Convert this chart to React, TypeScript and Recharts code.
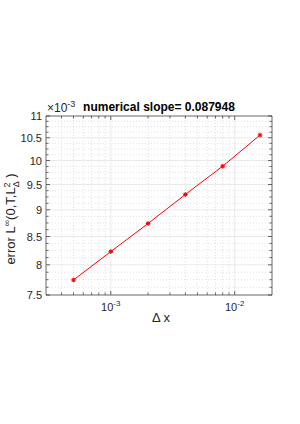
import React from 'react';
import { LineChart, Line, XAxis, YAxis, ReferenceLine, ReferenceArea } from 'recharts';

// grid refinement (Delta x) and the measured L-infinity error
const dx = [5e-4, 1e-3, 2e-3, 4e-3, 8e-3, 1.6e-2];
const errLinf = [7.745e-3, 8.23e-3, 8.74e-3, 9.3e-3, 9.88e-3, 10.56e-3];

const titleText = 'numerical slope= 0.087948';

// axis limits and ticks
const X_MIN = 3e-4;
const X_MAX = 2e-2;
const Y_MIN = 7.5e-3;
const Y_MAX = 11e-3;
const xMajor = [1e-3, 1e-2];
const xMinor = [4e-4, 5e-4, 6e-4, 7e-4, 8e-4, 9e-4, 2e-3, 3e-3, 4e-3, 5e-3, 6e-3, 7e-3, 8e-3, 9e-3];
const yMajor = [7.5e-3, 8e-3, 8.5e-3, 9e-3, 9.5e-3, 10e-3, 10.5e-3, 11e-3];
const yMinor = [
  7.625e-3, 7.75e-3, 7.875e-3, 8.125e-3, 8.25e-3, 8.375e-3, 8.625e-3, 8.75e-3, 8.875e-3,
  9.125e-3, 9.25e-3, 9.375e-3, 9.625e-3, 9.75e-3, 9.875e-3, 10.125e-3, 10.25e-3, 10.375e-3,
  10.625e-3, 10.75e-3, 10.875e-3,
];

const data = dx.map((d, i) => ({ dx: d, err: errLinf[i] }));

// plot box in pixels (matches margins below)
const PLOT_LEFT = 46;
const PLOT_RIGHT = 272;
const PLOT_TOP = 116;
const PLOT_BOTTOM = 295;

const AXIS = '#262626';
const FONT = '"Liberation Sans", Arial, sans-serif';

const XTick = (props: any) => {
  const { x, payload } = props;
  const v = payload.value;
  const major = xMajor.includes(v);
  const len = major ? 4 : 2.5;
  return (
    <g>
      <line x1={x} x2={x} y1={PLOT_BOTTOM} y2={PLOT_BOTTOM - len} stroke={AXIS} strokeWidth={0.7} />
      <line x1={x} x2={x} y1={PLOT_TOP} y2={PLOT_TOP + len} stroke={AXIS} strokeWidth={0.7} />
      {major && (
        <text x={x} y={311} textAnchor="middle" fontSize={11} fill={AXIS} fontFamily={FONT}>
          10
          <tspan dy={-5} fontSize={8}>{Math.round(Math.log10(v))}</tspan>
        </text>
      )}
    </g>
  );
};

const YTick = (props: any) => {
  const { y, payload } = props;
  const v = payload.value;
  const major = yMajor.includes(v);
  const len = major ? 4 : 2.5;
  return (
    <g>
      <line x1={PLOT_LEFT} x2={PLOT_LEFT + len} y1={y} y2={y} stroke={AXIS} strokeWidth={0.7} />
      <line x1={PLOT_RIGHT} x2={PLOT_RIGHT - len} y1={y} y2={y} stroke={AXIS} strokeWidth={0.7} />
      {major && (
        <text x={42} y={y + 4} textAnchor="end" fontSize={11} fill={AXIS} fontFamily={FONT}>
          {+(v * 1000).toFixed(1)}
        </text>
      )}
    </g>
  );
};

const Star = (props: any) => {
  const { cx, cy } = props;
  if (cx == null || cy == null) return null;
  const r = 2.3;
  return (
    <g stroke="#ff0000" strokeWidth={1.1}>
      <line x1={cx - r} x2={cx + r} y1={cy} y2={cy} />
      <line x1={cx} x2={cx} y1={cy - r} y2={cy + r} />
      <line x1={cx - r * 0.7} x2={cx + r * 0.7} y1={cy - r * 0.7} y2={cy + r * 0.7} />
      <line x1={cx - r * 0.7} x2={cx + r * 0.7} y1={cy + r * 0.7} y2={cy - r * 0.7} />
    </g>
  );
};

const App = () => {
  return (
    <div style={{ position: 'absolute', left: 0, top: 0, width: 300, height: 424, background: '#fff' }}>
      <LineChart width={300} height={424} data={data} margin={{ top: 116, right: 28, bottom: 0, left: 0 }}>
        {xMinor.map((v) => (
          <ReferenceLine key={'xm' + v} x={v} stroke="#d9d9d9" strokeDasharray="1 2" strokeWidth={0.8} />
        ))}
        {yMinor.map((v) => (
          <ReferenceLine key={'ym' + v} y={v} stroke="#d9d9d9" strokeDasharray="1 2" strokeWidth={0.8} />
        ))}
        {xMajor.map((v) => (
          <ReferenceLine key={'xM' + v} x={v} stroke="#e3e3e3" strokeWidth={0.8} />
        ))}
        {yMajor.slice(1, -1).map((v) => (
          <ReferenceLine key={'yM' + v} y={v} stroke="#e3e3e3" strokeWidth={0.8} />
        ))}
        <XAxis
          dataKey="dx"
          type="number"
          scale="log"
          domain={[X_MIN, X_MAX]}
          allowDataOverflow
          ticks={[...xMinor, ...xMajor]}
          interval={0}
          tickSize={0}
          axisLine={false}
          tick={<XTick />}
          height={129}
        />
        <YAxis
          type="number"
          scale="log"
          domain={[Y_MIN, Y_MAX]}
          allowDataOverflow
          ticks={[...yMinor, ...yMajor]}
          interval={0}
          tickSize={0}
          axisLine={false}
          tick={<YTick />}
          width={46}
        />
        <ReferenceArea
          x1={X_MIN}
          x2={X_MAX}
          y1={Y_MIN}
          y2={Y_MAX}
          fill="none"
          stroke={AXIS}
          strokeWidth={0.7}
          strokeOpacity={1}
        />
        <Line
          dataKey="err"
          type="linear"
          stroke="#ff0000"
          strokeWidth={1}
          dot={<Star />}
          activeDot={false}
          isAnimationActive={false}
        />
        <text x={159} y={111} textAnchor="middle" fontSize={12} fontWeight="bold" fill="#000" fontFamily={FONT}>
          {titleText}
        </text>
        <text x={47} y={111.5} fontSize={12} fill={AXIS} fontFamily={FONT}>
          {'\u00d710'}
          <tspan dy={-5} fontSize={9}>-3</tspan>
        </text>
        <text x={161} y={321.5} textAnchor="middle" fontSize={13} fill={AXIS} fontFamily={FONT}>
          {'\u0394 x'}
        </text>
        <text
          x={15}
          y={219}
          textAnchor="middle"
          fontSize={13}
          fill={AXIS}
          fontFamily={FONT}
          transform="rotate(-90, 15, 219)"
        >
          error L
          <tspan dy={-5} fontSize={9}>{'\u221e'}</tspan>
          <tspan dy={5}>(0,T,L</tspan>
          <tspan dy={-5} fontSize={9}>2</tspan>
          <tspan dx={-5} dy={9} fontSize={9}>{'\u0394'}</tspan>
          <tspan dy={-4}>{' )'}</tspan>
        </text>
      </LineChart>
    </div>
  );
};

export default App;
